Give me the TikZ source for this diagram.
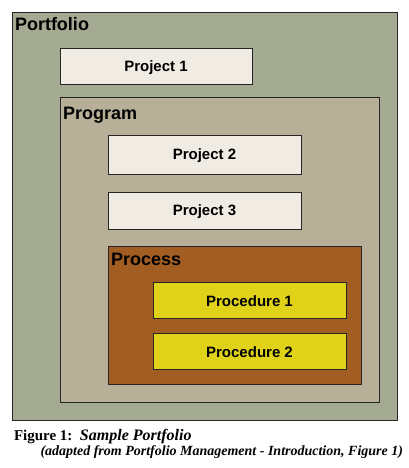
\documentclass[tikz,border=0pt]{standalone}
\usepackage{fontspec}
\setmainfont{Liberation Serif}
\setsansfont{Liberation Sans}
\usetikzlibrary{positioning}
\definecolor{portfoliofill}{RGB}{165,170,146}
\definecolor{programfill}{RGB}{184,175,152}
\definecolor{projectfill}{RGB}{240,236,228}
\definecolor{processfill}{RGB}{161,93,34}
\definecolor{procedurefill}{RGB}{224,210,24}
\tikzset{
    x = 1pt, y = -1pt,
    every node/.style = {inner sep = 0pt, outer sep = 0pt},
    area/.style = {draw = black!85, line width = 0.9pt, anchor = north west},
    item/.style = {area, font = \sffamily\bfseries\fontsize{15}{18}\selectfont},
    itemtext/.style = {font = \sffamily\bfseries\fontsize{15}{18}\selectfont, yshift = -1.5pt},
    title/.style = {anchor = base west, font = \sffamily\bfseries\fontsize{18}{21}\selectfont}
}

\begin{document}
\begin{tikzpicture}
    \useasboundingbox (0, 0) rectangle (408, 468);

    \node[area, fill = portfoliofill, minimum width = 385, minimum height = 408] (portfolio) at (12, 12) {};
    \node[title] (portfoliolabel) at (15, 31) {Portfolio};
    \node[item, fill = projectfill, minimum width = 192, minimum height = 36] (project1) at (60, 48) {};
    \node[itemtext] (project1label) at (project1.center) {Project 1};

    \node[area, fill = programfill, minimum width = 319, minimum height = 305] (program) at (60, 97) {};
    \node[title] (programlabel) at (63, 120) {Program};
    \node[item, fill = projectfill, minimum width = 193, minimum height = 39] (project2) at (108, 135) {};
    \node[itemtext] (project2label) at (project2.center) {Project 2};
    \node[item, fill = projectfill, minimum width = 193, minimum height = 37] (project3) at (108, 192) {};
    \node[itemtext] (project3label) at (project3.center) {Project 3};

    \node[area, fill = processfill, minimum width = 253, minimum height = 138] (process) at (108, 246) {};
    \node[title] (processlabel) at (111, 265) {Process};
    \node[item, fill = procedurefill, minimum width = 193, minimum height = 36] (procedure1) at (153, 282) {};
    \node[itemtext] (procedure1label) at (procedure1.center) {Procedure 1};
    \node[item, fill = procedurefill, minimum width = 193, minimum height = 36] (procedure2) at (153, 333) {};
    \node[itemtext] (procedure2label) at (procedure2.center) {Procedure 2};

    % caption
    \node[anchor = base west, font = \bfseries\fontsize{15}{17}\selectfont] (caption) at (14, 440) {Figure 1:\ \ \textit{\fontsize{16}{18}\selectfont Sample Portfolio}};
    \node[anchor = base east, font = \bfseries\itshape\fontsize{14}{16}\selectfont] (source) at (403, 455) {(adapted from Portfolio Management - Introduction, Figure 1)};
\end{tikzpicture}
\end{document}
